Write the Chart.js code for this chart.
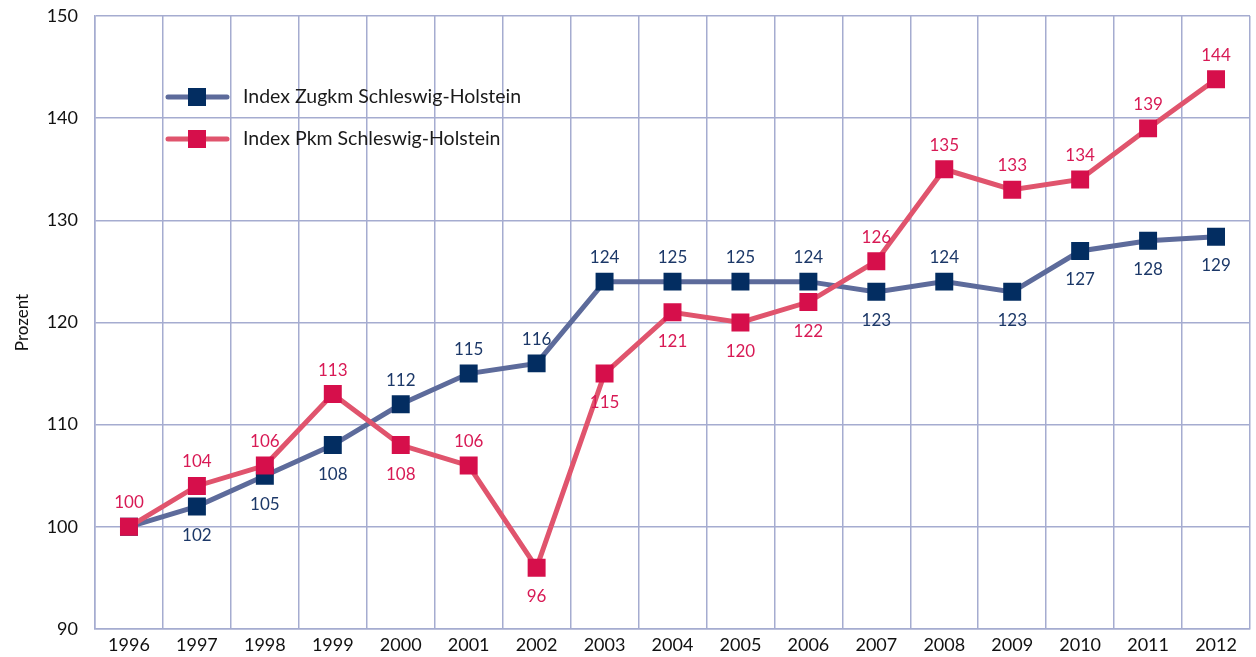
<!DOCTYPE html>
<html>
<head>
<meta charset="utf-8">
<script src="https://cdn.jsdelivr.net/npm/chart.js@4/dist/chart.umd.min.js"></script>
<style>
  html, body { margin: 0; padding: 0; background: #fff; overflow: hidden; }
  canvas { display: block; }
</style>
</head>
<body>
<canvas id="myChart" width="1256" height="657"></canvas>
<script>
// data
const years = ["1996","1997","1998","1999","2000","2001","2002","2003","2004","2005","2006","2007","2008","2009","2010","2011","2012"];
const zugkm = [100, 102, 105, 108, 112, 115, 116, 124, 124, 124, 124, 123, 124, 123, 127, 128, 128.4];
const pkm = [100, 104, 106, 113, 108, 106, 96, 115, 121, 120, 122, 126, 135, 133, 134, 139, 143.8];
// printed labels (as shown in the original, null = not shown)
const zugkmLabels = [null, "102", "105", "108", "112", "115", "116", "124", "125", "125", "124", "123", "124", "123", "127", "128", "129"];
const pkmLabels = ["100", "104", "106", "113", "108", "106", "96", "115", "121", "120", "122", "126", "135", "133", "134", "139", "144"];
// label placement: 1 = above, -1 = below
const zugkmPos = [0, -1, -1, -1, 1, 1, 1, 1, 1, 1, 1, -1, 1, -1, -1, -1, -1];
const pkmPos = [1, 1, 1, 1, -1, 1, -1, -1, -1, -1, -1, 1, 1, 1, 1, 1, 1];
const seriesNames = ["Index Zugkm Schleswig-Holstein", "Index Pkm Schleswig-Holstein"];

const FONT = "Lato, 'Open Sans', sans-serif";
const BLUE_LINE = "#5d6b9b";
const BLUE_MARK = "#032d61";
const BLUE_TEXT = "#1c3868";
const RED_LINE = "#e0546d";
const RED_MARK = "#d60f4b";
const RED_TEXT = "#d81a55";
const GRID = "#a5acd0";

const labelPlugin = {
  id: 'valueLabels',
  afterDatasetsDraw(chart) {
    const ctx = chart.ctx;
    ctx.save();
    ctx.font = "17px " + FONT;
    ctx.textAlign = "center";
    ctx.textBaseline = "middle";
    const sets = [[zugkmLabels, zugkmPos, BLUE_TEXT], [pkmLabels, pkmPos, RED_TEXT]];
    sets.forEach((s, di) => {
      const meta = chart.getDatasetMeta(di);
      meta.data.forEach((pt, i) => {
        if (!s[0][i]) return;
        ctx.fillStyle = s[2];
        const dy = s[1][i] > 0 ? -24 : 29;
        ctx.fillText(s[0][i], pt.x, pt.y + dy);
      });
    });
    // legend inside the plot
    const legend = [[BLUE_LINE, BLUE_MARK, 97], [RED_LINE, RED_MARK, 139]];
    legend.forEach((l, i) => {
      ctx.strokeStyle = l[0];
      ctx.lineWidth = 5;
      ctx.lineCap = "round";
      ctx.beginPath();
      ctx.moveTo(168, l[2]);
      ctx.lineTo(227, l[2]);
      ctx.stroke();
      ctx.fillStyle = l[1];
      ctx.fillRect(188, l[2] - 9, 18, 18);
      ctx.fillStyle = "#1a1a1a";
      ctx.font = "19.5px " + FONT;
      ctx.textAlign = "left";
      ctx.fillText(seriesNames[i], 243, l[2]);
    });
    ctx.restore();
  }
};

const drawChart = () => {
  const chartEl = document.getElementById('myChart');
  const common = {
    borderWidth: 5,
    pointStyle: 'rect',
    pointRadius: 12.7,
    pointHoverRadius: 12.7,
    pointBorderWidth: 0,
    tension: 0
  };
  new Chart(chartEl, {
    type: 'line',
    data: {
      labels: years,
      datasets: [{
        ...common,
        label: seriesNames[0],
        data: zugkm,
        borderColor: BLUE_LINE,
        pointBackgroundColor: BLUE_MARK,
        pointBorderColor: BLUE_MARK,
        order: 2
      }, {
        ...common,
        label: seriesNames[1],
        data: pkm,
        borderColor: RED_LINE,
        pointBackgroundColor: RED_MARK,
        pointBorderColor: RED_MARK,
        order: 1
      }]
    },
    options: {
      responsive: false,
      animation: false,
      layout: { autoPadding: false, padding: { top: 16, right: 6, left: 0, bottom: 0 } },
      plugins: {
        legend: { display: false },
        tooltip: { enabled: false }
      },
      scales: {
        x: {
          offset: true,
          grid: { color: GRID, lineWidth: 1.5, offset: true, drawTicks: true, tickLength: 5, tickColor: 'rgba(0,0,0,0)' },
          border: { color: GRID, width: 1.5 },
          ticks: { color: "#111", font: { family: FONT, size: 18 }, padding: 0, maxRotation: 0 },
          afterFit: (scale) => {
            scale.height = 28;
            scale.paddingLeft = 0;
            scale.paddingRight = 0;
          }
        },
        y: {
          min: 90,
          max: 150,
          grid: { color: GRID, lineWidth: 1.5, drawTicks: true, tickLength: 16, tickColor: 'rgba(0,0,0,0)' },
          border: { color: GRID, width: 1.5 },
          ticks: { stepSize: 10, color: "#111", font: { family: FONT, size: 18 }, padding: 1 },
          title: { display: true, text: "Prozent", color: "#111", font: { family: FONT, size: 17 }, padding: { top: 12, bottom: 0 } },
          afterFit: (scale) => {
            scale.width = 95;
            scale.paddingTop = 0;
            scale.paddingBottom = 0;
          }
        }
      }
    },
    plugins: [labelPlugin]
  });
};

drawChart();
</script>
</body>
</html>
